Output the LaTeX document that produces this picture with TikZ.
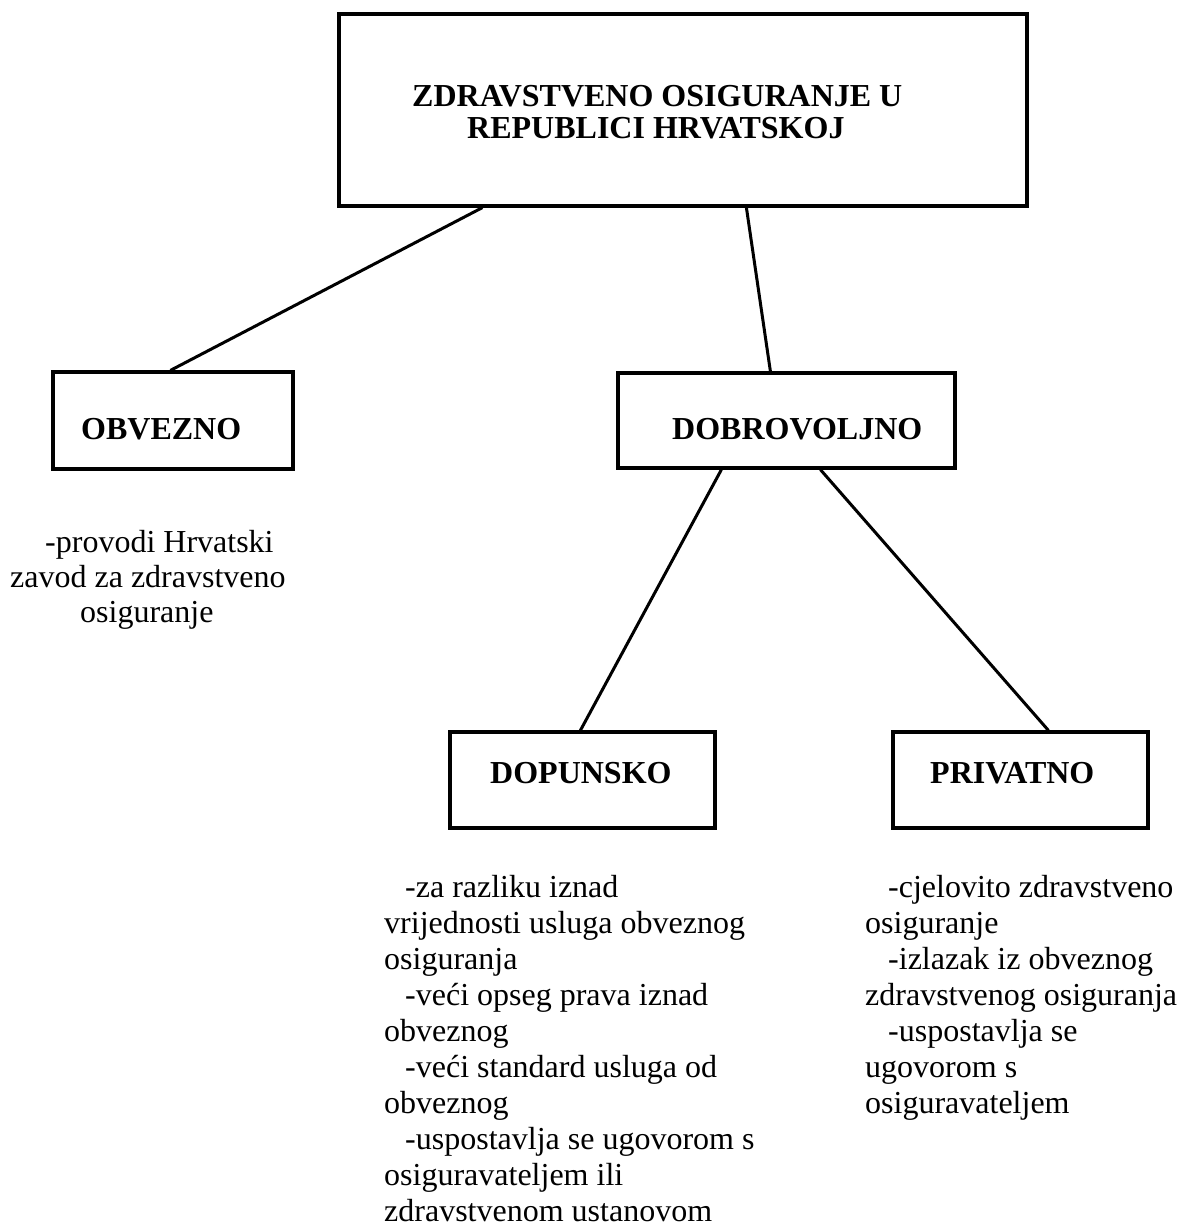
\documentclass[tikz,border=0pt]{standalone}
\usepackage{fontspec}
\setmainfont{Liberation Serif}
\begin{document}
\begin{tikzpicture}[x=1pt,y=-1pt,
  box/.style={draw, rectangle, inner sep=0pt, line width=3.2pt},
  head/.style={font=\fontsize{32}{32}\selectfont\bfseries, anchor=base west, inner sep=0pt},
  body/.style={font=\fontsize{32}{36}\selectfont, anchor=base west, inner sep=0pt},
  link/.style={line width=3pt}]
\useasboundingbox (0,0) rectangle (1179,1230);

% boxes
\node[box, minimum width=688pt, minimum height=192pt] (top) at (683,110) {};
\node[box, minimum width=240pt, minimum height=97pt] (obv) at (173,420.5) {};
\node[box, minimum width=337pt, minimum height=95pt] (dob) at (786.5,420.5) {};
\node[box, minimum width=265pt, minimum height=96pt] (dop) at (582.5,780) {};
\node[box, minimum width=255pt, minimum height=96pt] (pri) at (1020.5,780) {};

% box titles
\node[head] (topt1) at (412,107) {ZDRAVSTVENO OSIGURANJE U};
\node[head] (topt2) at (467,139) {REPUBLICI HRVATSKOJ};
\node[head] (obvt) at (81,439) {OBVEZNO};
\node[head] (dobt) at (672,439) {DOBROVOLJNO};
\node[head] (dopt) at (490,783) {DOPUNSKO};
\node[head] (prit) at (930,783) {PRIVATNO};

% connectors
\draw[link] ([xshift=145pt]top.south west) -- ([xshift=119pt]obv.north west);
\draw[link] ([xshift=409pt]top.south west) -- ([xshift=154pt]dob.north west);
\draw[link] ([xshift=105pt]dob.south west) -- ([xshift=132pt]dop.north west);
\draw[link] ([xshift=204pt]dob.south west) -- ([xshift=157pt]pri.north west);

% descriptions
\node[body] (ob1) at (45,552) {-provodi Hrvatski};
\node[body] (ob2) at (10,587) {zavod za zdravstveno};
\node[body] (ob3) at (80,622) {osiguranje};

\foreach \x/\t [count=\i] in {
  405/{-za razliku iznad},
  384/{vrijednosti usluga obveznog},
  384/{osiguranja},
  405/{-veći opseg prava iznad},
  384/{obveznog},
  405/{-veći standard usluga od},
  384/{obveznog},
  405/{-uspostavlja se ugovorom s},
  384/{osiguravateljem ili},
  384/{zdravstvenom ustanovom}}
  \node[body] (dp\i) at ({\x},{861+36*\i}) {\t};

\foreach \x/\t [count=\i] in {
  888/{-cjelovito zdravstveno},
  865/{osiguranje},
  888/{-izlazak iz obveznog},
  865/{zdravstvenog osiguranja},
  888/{-uspostavlja se},
  865/{ugovorom s},
  865/{osiguravateljem}}
  \node[body] (pr\i) at ({\x},{861+36*\i}) {\t};
\end{tikzpicture}
\end{document}
